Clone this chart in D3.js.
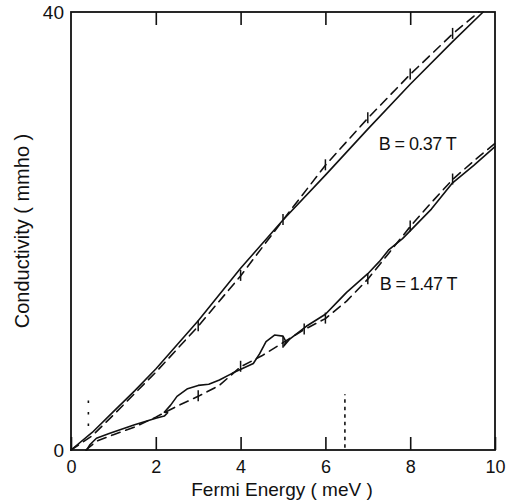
<!DOCTYPE html>
<html><head><meta charset="utf-8">
<script src="https://cdn.jsdelivr.net/npm/d3@7"></script>
<style>
html,body{margin:0;padding:0;background:#fff;}
svg text{font-family:"Liberation Sans",Arial,Helvetica,sans-serif;fill:#111;}
</style></head>
<body><svg id="c" width="508" height="502"></svg>
<script>
// ---- data ----
const xTicks = [0, 2, 4, 6, 8, 10];
const yTicks = [0, 40];

const upperSolidX = [0, 0.5, 1, 1.5, 2, 3, 4, 5, 6, 7, 8, 9, 9.72];
const upperSolidY = [0, 1.6, 3.5, 5.4, 7.4, 11.8, 16.6, 21.0, 25.1, 29.3, 33.4, 37.3, 40];
const upperDashX = [0, 0.5, 1, 2, 3, 4, 5, 6, 7, 8, 9, 9.62];
const upperDashY = [0, 1.3, 3.2, 7.1, 11.3, 15.9, 21.0, 26.0, 30.3, 34.3, 38.0, 40];
const upperMarkX = [3, 4, 5, 6, 7, 8, 9];
const upperMarkY = [11.3, 15.9, 21.0, 26.0, 30.3, 34.3, 38.0];

const lowerSolidX = [0.37, 0.45, 0.6, 0.9, 1.5, 2.0, 2.2, 2.28, 2.2, 2.35, 2.5, 2.75, 3.0, 3.25, 3.5, 3.8, 4.3, 4.45, 4.6, 4.8, 5.0, 5.07, 5.02, 5.15, 5.55, 6.0, 6.3, 6.5, 7.0, 7.27, 7.5, 7.82, 8.5, 9.0, 9.5, 10.0];
const lowerSolidY = [0, 0.5, 1.07, 1.5, 2.3, 2.9, 3.1, 3.4, 3.45, 4.1, 4.9, 5.6, 5.9, 6.0, 6.4, 7.0, 7.9, 8.8, 9.9, 10.5, 10.4, 9.9, 9.5, 10.1, 11.3, 12.4, 13.6, 14.4, 16.1, 17.2, 18.3, 19.3, 22.0, 24.4, 26.0, 27.7];
const lowerDashX = [0.35, 0.6, 1.0, 1.5, 2.0, 2.5, 3.0, 3.5, 4.0, 4.5, 5.0, 5.5, 6.0, 6.5, 7.0, 7.5, 8.0, 8.5, 9.0, 9.5, 10.0];
const lowerDashY = [0, 0.8, 1.4, 2.1, 3.0, 4.0, 4.9, 5.9, 7.6, 8.6, 9.8, 11.0, 12.0, 13.6, 15.6, 18.0, 20.4, 22.6, 24.7, 26.4, 28.0];
const lowerMarkX = [3, 4, 5, 5.5, 6, 7, 8, 9];
const lowerMarkY = [4.9, 7.6, 9.8, 11.0, 12.0, 15.6, 20.4, 24.7];

const dotX = [0.41, 6.46];
const dotY0 = [2.2, 0.2];
const dotY1 = [4.8, 5.1];

const labels = ["B = 0.37 T", "B = 1.47 T"];
const labelX = [7.26, 7.28];
const labelY = [27.4, 14.6];

// ---- drawing ----
const svg = d3.select("#c");
const L = 71, R = 495, T = 12, B = 450;
const x = d3.scaleLinear().domain([0, 10]).range([L, R]);
const y = d3.scaleLinear().domain([0, 40]).range([B, T]);

// frame
svg.append("rect").attr("x", L).attr("y", T).attr("width", R - L).attr("height", B - T)
  .attr("fill", "none").attr("stroke", "#111").attr("stroke-width", 1.8);

// bottom axis (ticks inward)
const gx = svg.append("g").attr("transform", `translate(0,${B})`)
  .call(d3.axisBottom(x).tickValues(xTicks).tickSizeInner(-13).tickSizeOuter(0).tickPadding(10).tickFormat(d3.format("d")));
gx.select(".domain").remove();
gx.selectAll("line").attr("stroke", "#111").attr("stroke-width", 1.6);
gx.selectAll("text").attr("font-size", 18).attr("fill", "#111");

// top axis ticks (inward)
const gt = svg.append("g").attr("transform", `translate(0,${T})`)
  .call(d3.axisTop(x).tickValues([2, 4, 6, 8]).tickSizeInner(-13).tickSizeOuter(0).tickFormat(""));
gt.select(".domain").remove();
gt.selectAll("line").attr("stroke", "#111").attr("stroke-width", 1.6);

// left axis labels
const gy = svg.append("g").attr("transform", `translate(${L},0)`)
  .call(d3.axisLeft(y).tickValues(yTicks).tickSize(0).tickPadding(7).tickFormat(d3.format("d")));
gy.select(".domain").remove();
gy.selectAll("text").attr("font-size", 19).attr("fill", "#111");

// axis titles
svg.append("text").attr("x", (L + R) / 2 - 1).attr("y", 496).attr("text-anchor", "middle")
  .attr("font-size", 19).text("Fermi Energy ( meV )");
svg.append("text").attr("transform", `translate(29,${(T + B) / 2}) rotate(-90)`)
  .attr("text-anchor", "middle").attr("font-size", 20).text("Conductivity ( mmho )");

const line = d3.line().x(d => x(d[0])).y(d => y(d[1]));
const zip = (a, b) => a.map((v, i) => [v, b[i]]);

function drawSeries(sx, sy, dash) {
  svg.append("path").datum(zip(sx, sy)).attr("d", line)
    .attr("fill", "none").attr("stroke", "#111").attr("stroke-width", 1.6)
    .attr("stroke-linejoin", "round").attr("stroke-linecap", "round")
    .attr("stroke-dasharray", dash);
}
drawSeries(upperSolidX, upperSolidY, null);
drawSeries(upperDashX, upperDashY, "9,6");
drawSeries(lowerSolidX, lowerSolidY, null);
drawSeries(lowerDashX, lowerDashY, "9,6");

function drawMarks(mx, my) {
  svg.append("g").selectAll("line").data(zip(mx, my)).join("line")
    .attr("x1", d => x(d[0])).attr("x2", d => x(d[0]))
    .attr("y1", d => y(d[1]) - 6).attr("y2", d => y(d[1]) + 5)
    .attr("stroke", "#111").attr("stroke-width", 1.5);
}
drawMarks(upperMarkX, upperMarkY);
drawMarks(lowerMarkX, lowerMarkY);

// dotted verticals
svg.append("g").selectAll("line").data(dotX.map((v, i) => [v, dotY0[i], dotY1[i]])).join("line")
  .attr("x1", d => x(d[0])).attr("x2", d => x(d[0]))
  .attr("y1", d => y(d[1])).attr("y2", d => y(d[2]))
  .attr("stroke", "#111").attr("stroke-width", 1.6).attr("stroke-dasharray", (d, i) => i === 0 ? "2.5,9" : "3.5,4");

// series labels
svg.append("g").selectAll("text").data(labels).join("text")
  .attr("x", (d, i) => x(labelX[i])).attr("y", (d, i) => y(labelY[i]))
  .attr("font-size", 18).attr("letter-spacing", -0.6).text(d => d);
</script></body></html>
